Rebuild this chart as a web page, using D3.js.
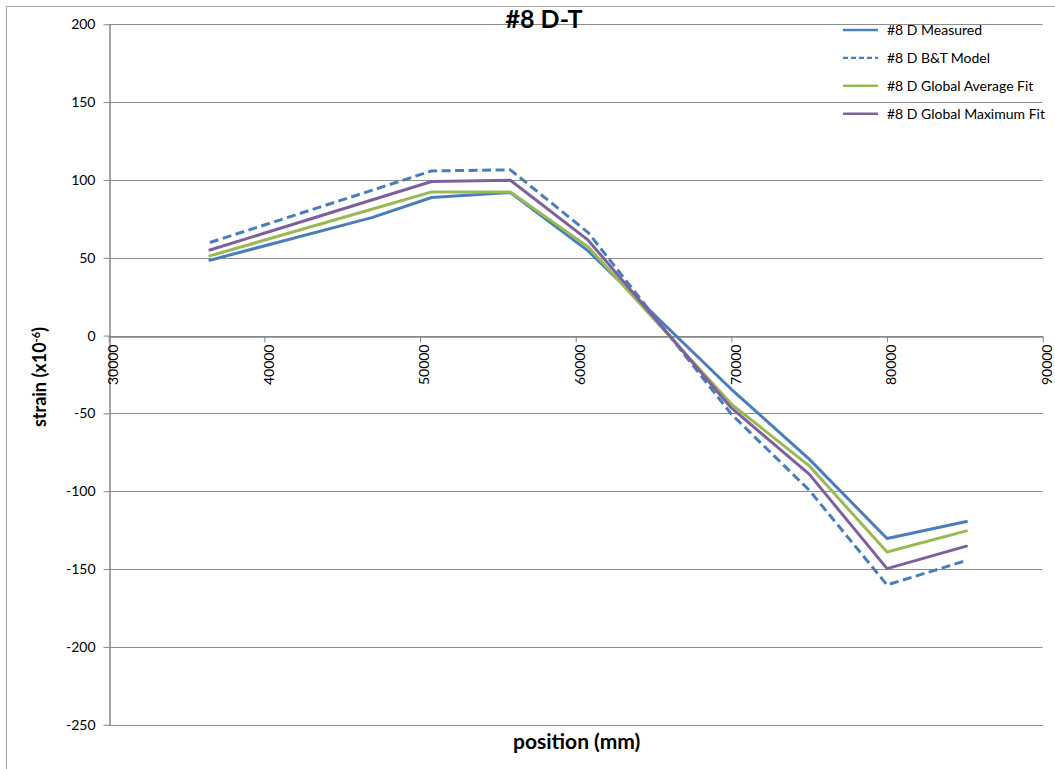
<!DOCTYPE html>
<html>
<head>
<meta charset="utf-8">
<script src="https://cdn.jsdelivr.net/npm/d3@7"></script>
<style>
  html, body { margin: 0; padding: 0; background: #fff; }
  svg { display: block; font-family: Lato, "Open Sans", "Liberation Sans", sans-serif; }
</style>
</head>
<body>
<svg id="chart" width="1055" height="769"></svg>
<script>
// Gauge positions along the member (mm)
const positions = [36500, 46900, 50750, 55800, 60800, 70000, 75000, 80000, 85100];

// Strain readings (x10^-6) for each series
const measured = [48.4, 75.8, 88.7, 91.9, 54.4, -34.5, -79.4, -130.4, -119.5];
const btModel  = [59.8, 93.3, 105.8, 106.5, 66.2, -50.5, -99.3, -160.2, -144.5];
const avgFit   = [51.2, 81.2, 92.3, 92.3, 57.0, -44.0, -83.7, -139.0, -125.5];
const maxFit   = [55.0, 87.1, 99.0, 99.8, 61.3, -46.5, -89.0, -149.7, -135.3];

const seriesNames = ["#8 D Measured", "#8 D B&T Model", "#8 D Global Average Fit", "#8 D Global Maximum Fit"];
const seriesValues = [measured, btModel, avgFit, maxFit];
const seriesColors = ["#4a7ebb", "#4a7ebb", "#98b954", "#7d60a0"];
const seriesDash = [null, "9,4.5", null, null];

const xTicks = [30000, 40000, 50000, 60000, 70000, 80000, 90000];
const yTicks = [200, 150, 100, 50, 0, -50, -100, -150, -200, -250];

const chartTitle = "#8 D-T";
const xTitle = "position (mm)";

const svg = d3.select("#chart");

// Outer chart frame
svg.append("rect")
  .attr("x", 6.5).attr("y", 6.5)
  .attr("width", 1060).attr("height", 780)
  .attr("fill", "#fff").attr("stroke", "#a6a6a6").attr("stroke-width", 1);

const x = d3.scaleLinear().domain([30000, 90000]).range([108.7, 1042.7]);
const y = d3.scaleLinear().domain([-250, 200]).range([724.7, 24.3]);

// Plain hyphen-minus for negative labels
const plainFormat = d => String(d);

// Horizontal gridlines
svg.append("g")
  .selectAll("line")
  .data(yTicks)
  .join("line")
  .attr("x1", x(30000)).attr("x2", x(90000))
  .attr("y1", d => Math.round(y(d)) + 0.5).attr("y2", d => Math.round(y(d)) + 0.5)
  .attr("stroke", "#8c8c8c").attr("stroke-width", 1);

// Y axis
const yAxis = svg.append("g")
  .attr("transform", `translate(${Math.round(x(30000)) + 0.5},0)`)
  .call(d3.axisLeft(y).tickValues(yTicks).tickSize(6).tickSizeOuter(0).tickFormat(plainFormat));
yAxis.select(".domain").attr("stroke", "#868686").attr("stroke-width", 1.5);
yAxis.selectAll(".tick line").attr("stroke", "#868686");
yAxis.selectAll(".tick text")
  .attr("x", -14)
  .attr("font-size", 14).attr("fill", "#000")
  .attr("font-family", "Lato, 'Open Sans', sans-serif");

// X axis crossing at zero strain
const xAxis = svg.append("g")
  .attr("transform", `translate(0,${Math.round(y(0)) + 0.5})`)
  .call(d3.axisBottom(x).tickValues(xTicks).tickSize(6).tickSizeOuter(0).tickFormat(plainFormat));
xAxis.select(".domain").attr("stroke", "#868686").attr("stroke-width", 1.5);
xAxis.selectAll(".tick line").attr("stroke", "#868686");
xAxis.selectAll(".tick text")
  .attr("x", -8).attr("y", 0).attr("dy", "0.35em")
  .attr("text-anchor", "end")
  .attr("font-size", 14).attr("fill", "#000")
  .attr("font-family", "Lato, 'Open Sans', sans-serif")
  .attr("transform", "rotate(-90) translate(0,4)");

// Series lines
const line = d3.line()
  .x((d, i) => x(positions[i]))
  .y(d => y(d));

seriesValues.forEach((vals, i) => {
  svg.append("path")
    .datum(vals)
    .attr("d", line)
    .attr("fill", "none")
    .attr("stroke", seriesColors[i])
    .attr("stroke-width", 3)
    .attr("stroke-linejoin", "round")
    .attr("stroke-linecap", seriesDash[i] ? "butt" : "round")
    .attr("stroke-dasharray", seriesDash[i]);
});

// Title
svg.append("text")
  .attr("x", 544).attr("y", 28)
  .attr("text-anchor", "middle")
  .attr("font-size", 25).attr("font-weight", "bold")
  .text(chartTitle);

// Axis titles
svg.append("text")
  .attr("x", x(60000) + 1).attr("y", 749)
  .attr("text-anchor", "middle")
  .attr("font-size", 21).attr("font-weight", "bold")
  .text(xTitle);

const yTitle = svg.append("text")
  .attr("transform", "translate(46,377) rotate(-90)")
  .attr("text-anchor", "middle")
  .attr("font-size", 18).attr("font-weight", "bold");
yTitle.append("tspan").text("strain (x10");
yTitle.append("tspan").attr("baseline-shift", "super").attr("font-size", 11).text("-6");
yTitle.append("tspan").text(")");

// Legend
const legend = svg.append("g").attr("transform", "translate(843,30)");
seriesNames.forEach((name, i) => {
  const row = legend.append("g").attr("transform", `translate(0,${i * 27.9})`);
  row.append("line")
    .attr("x1", 0).attr("x2", 35).attr("y1", 0).attr("y2", 0)
    .attr("stroke", seriesColors[i]).attr("stroke-width", 2.4)
    .attr("stroke-dasharray", seriesDash[i] ? "5,3" : null);
  row.append("text")
    .attr("x", 44).attr("y", 0).attr("dy", "0.35em")
    .attr("font-size", 14).attr("fill", "#000")
    .text(name);
});
</script>
</body>
</html>
